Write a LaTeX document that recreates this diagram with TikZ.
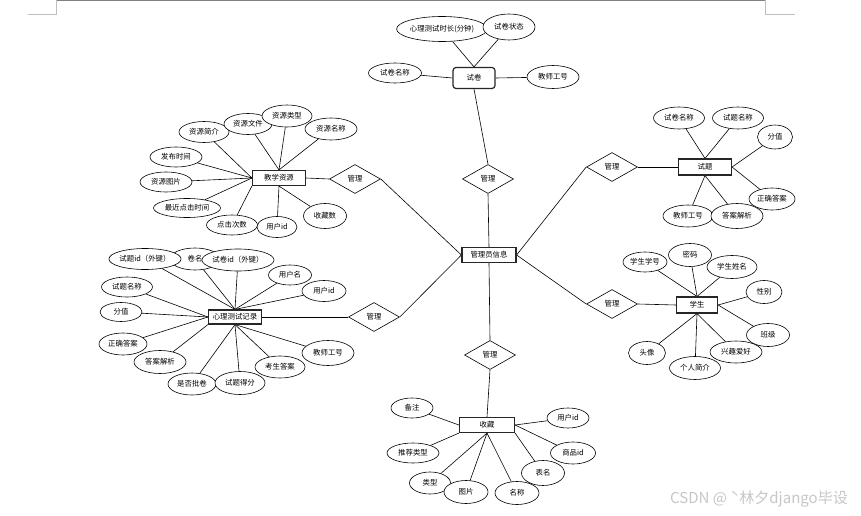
\documentclass[tikz,border=0pt]{standalone}
\usepackage{fontspec}
\newfontfamily\cjk{Noto Sans CJK SC}
\usetikzlibrary{shapes.geometric,backgrounds}
\tikzset{
  attr/.style={ellipse, draw=black, line width=0.6pt, fill=white, inner sep=0pt, font=\cjk\fontsize{7.4}{8}\selectfont},
  ent/.style={rectangle, draw=black!85, line width=1.2pt, fill=white, inner sep=0pt, font=\cjk\fontsize{7.4}{8}\selectfont},
  rel/.style={diamond, draw=black, line width=0.6pt, fill=white, inner sep=0pt, minimum width=51pt, minimum height=29pt, font=\cjk\fontsize{7.4}{8}\selectfont},
  conn/.style={draw=black, line width=0.6pt},
}
\begin{document}
\begin{tikzpicture}[x=1pt,y=-1pt]
\useasboundingbox (0,0) rectangle (861,516);
\begin{scope}[on background layer]
  \fill[white] (0,0) rectangle (861,516);
\end{scope}
% page border marks
\draw[black!50, line width=1.4pt] (57,0.7) -- (765,0.7);
\draw[black!25, line width=0.6pt] (56,0) -- (56,14) -- (28,14);
\draw[black!25, line width=0.6pt] (765,0) -- (765,14) -- (795,14);

% ---------- centre ----------
\node[ent, minimum width=54pt, minimum height=15pt] (gly) at (489,255) {管理员信息};
\node[rel] (d1) at (488,179) {管理};
\node[rel] (d2) at (355,179) {管理};
\node[rel] (d3) at (374,317) {管理};
\node[rel] (d4) at (612,167) {管理};
\node[rel] (d5) at (612,304) {管理};
\node[rel] (d6) at (490,355) {管理};

% ---------- 试卷 ----------
\node[ent, rounded corners=3pt, minimum width=42pt, minimum height=21pt] (sj) at (474,78) {试卷};
\node[attr, minimum width=86pt, minimum height=25pt] (sj1) at (442,29) {心理测试时长(分钟)};
\node[attr, minimum width=52pt, minimum height=26pt] (sj2) at (509,27) {试卷状态};
\node[attr, minimum width=53pt, minimum height=20pt] (sj3) at (395,73) {试卷名称};
\node[attr, minimum width=52pt, minimum height=23pt] (sj4) at (553,77) {教师工号};

% ---------- 教学资源 ----------
\node[ent, minimum width=53pt, minimum height=15pt] (jx) at (279,178) {教学资源};
\node[attr, minimum width=50pt, minimum height=21pt] (j1) at (204,132) {资源简介};
\node[attr, minimum width=48pt, minimum height=21pt] (j2) at (248,124) {资源文件};
\node[attr, minimum width=50pt, minimum height=22pt] (j3) at (287,116) {资源类型};
\node[attr, minimum width=52pt, minimum height=22pt] (j4) at (331,129) {资源名称};
\node[attr, minimum width=52pt, minimum height=20pt] (j5) at (176,157) {发布时间};
\node[attr, minimum width=52pt, minimum height=20pt] (j6) at (166,182) {资源图片};
\node[attr, minimum width=67pt, minimum height=19pt] (j7) at (187,208) {最近点击时间};
\node[attr, minimum width=51pt, minimum height=20pt] (j8) at (232,225) {点击次数};
\node[attr, minimum width=40pt, minimum height=21pt] (j9) at (277,227) {用户id};
\node[attr, minimum width=43pt, minimum height=25pt] (j10) at (325,216) {收藏数};

% ---------- 试题 ----------
\node[ent, minimum width=53pt, minimum height=16pt] (st) at (705,167) {试题};
\node[attr, minimum width=51pt, minimum height=22pt] (t1) at (679,118) {试卷名称};
\node[attr, minimum width=51pt, minimum height=22pt] (t2) at (738,118) {试题名称};
\node[attr, minimum width=35pt, minimum height=24pt] (t3) at (775,137) {分值};
\node[attr, minimum width=46pt, minimum height=22pt] (t4) at (772,199) {正确答案};
\node[attr, minimum width=50pt, minimum height=22pt] (t5) at (688,216) {教师工号};
\node[attr, minimum width=52pt, minimum height=25pt] (t6) at (737,216) {答案解析};

% ---------- 心理测试记录 ----------
\node[ent, minimum width=53pt, minimum height=14pt] (xl) at (235,317) {心理测试记录};
\node[attr, minimum width=50pt, minimum height=22pt] (x0) at (195,259) {卷名};
\node[attr, minimum width=66pt, minimum height=21pt] (x1) at (145,259) {试题id（外键）};
\node[attr, minimum width=65pt, minimum height=22pt] (x2) at (238,260) {试卷id（外键）};
\node[attr, minimum width=43pt, minimum height=20pt] (x3) at (290,275) {用户名};
\node[attr, minimum width=44pt, minimum height=21pt] (x4) at (324,291) {用户id};
\node[attr, minimum width=51pt, minimum height=20pt] (x5) at (127,287) {试题名称};
\node[attr, minimum width=42pt, minimum height=19pt] (x6) at (121,312) {分值};
\node[attr, minimum width=48pt, minimum height=22pt] (x7) at (123,344) {正确答案};
\node[attr, minimum width=52pt, minimum height=23pt] (x8) at (160,362) {答案解析};
\node[attr, minimum width=48pt, minimum height=22pt] (x9) at (192,384) {是否批卷};
\node[attr, minimum width=50pt, minimum height=23pt] (x10) at (240,383) {试题得分};
\node[attr, minimum width=50pt, minimum height=22pt] (x11) at (280,367) {考生答案};
\node[attr, minimum width=52pt, minimum height=25pt] (x12) at (328,353) {教师工号};

% ---------- 学生 ----------
\node[ent, minimum width=41pt, minimum height=16pt] (xs) at (697,305) {学生};
\node[attr, minimum width=44pt, minimum height=20pt] (s1) at (645,262) {学生学号};
\node[attr, minimum width=43pt, minimum height=23pt] (s2) at (690,255) {密码};
\node[attr, minimum width=50pt, minimum height=23pt] (s3) at (732,267) {学生姓名};
\node[attr, minimum width=36pt, minimum height=23pt] (s4) at (764,292) {性别};
\node[attr, minimum width=43pt, minimum height=23pt] (s5) at (768,335) {班级};
\node[attr, minimum width=52pt, minimum height=22pt] (s6) at (736,352) {兴趣爱好};
\node[attr, minimum width=51pt, minimum height=23pt] (s7) at (695,368) {个人简介};
\node[attr, minimum width=37pt, minimum height=23pt] (s8) at (647,353) {头像};

% ---------- 收藏 ----------
\node[ent, minimum width=55pt, minimum height=15pt] (sc) at (487,425) {收藏};
\node[attr, minimum width=42pt, minimum height=20pt] (c1) at (412,408) {备注};
\node[attr, minimum width=52pt, minimum height=20pt] (c2) at (413,453) {推荐类型};
\node[attr, minimum width=41pt, minimum height=22pt] (c3) at (430,483) {类型};
\node[attr, minimum width=44pt, minimum height=23pt] (c4) at (466,492) {图片};
\node[attr, minimum width=44pt, minimum height=23pt] (c5) at (517,493) {名称};
\node[attr, minimum width=43pt, minimum height=25pt] (c6) at (543,473) {表名};
\node[attr, minimum width=45pt, minimum height=22pt] (c7) at (573,453) {商品id};
\node[attr, minimum width=42pt, minimum height=20pt] (c8) at (568,418) {用户id};

% watermark
\node[font=\cjk\fontsize{15}{16}\selectfont, text=black!22, inner sep=0pt] (wm) at (759,499) {CSDN @ ˋ林夕django毕设};

% ---------- connectors ----------
\begin{scope}[on background layer]
  \path[conn] (sj.south) -- (d1.north);
  \path[conn] (gly.north) -- (d1.south);
  \path[conn] (gly.west) -- (d2.east);
  \path[conn] (gly.west) -- (d3.east);
  \path[conn] (gly.east) -- (d4.west);
  \path[conn] (gly.east) -- (d5.west);
  \path[conn] (gly.south) -- (d6.north);
  \path[conn] (d2.west) -- (jx.east);
  \path[conn] (d3.west) -- (xl.east);
  \path[conn] (d4.east) -- (st.west);
  \path[conn] (d5.east) -- (xs.west);
  \path[conn] (d6.south) -- (sc.north);
  % 试卷
  \path[conn] (sj.north) -- (sj1);
  \path[conn] (sj.north) -- (sj2);
  \path[conn] (sj.west) -- (sj3);
  \path[conn] (sj.east) -- (sj4);
  % 教学资源
  \foreach \n in {j1,j5,j6,j7} \path[conn] (jx.west) -- (\n);
  \foreach \n in {j2,j3,j4} \path[conn] (jx.north) -- (\n);
  \path[conn] (jx.south west) -- (j8);
  \path[conn] (jx.south) -- (j9);
  \path[conn] (jx.south) -- (j10);
  % 试题
  \foreach \n in {t1,t2} \path[conn] (st.north) -- (\n);
  \foreach \n in {t3,t4} \path[conn] (st.east) -- (\n);
  \foreach \n in {t5,t6} \path[conn] (st.south) -- (\n);
  % 心理测试记录
  \foreach \n in {x0,x1,x2,x3,x4} \path[conn] (xl.north) -- (\n);
  \foreach \n in {x5,x6,x7} \path[conn] (xl.west) -- (\n);
  \path[conn] (xl.south west) -- (x8);
  \foreach \n in {x9,x10,x11,x12} \path[conn] (xl.south) -- (\n);
  % 学生
  \foreach \n in {s1,s2,s3} \path[conn] (xs.north) -- (\n);
  \foreach \n in {s4,s5} \path[conn] (xs.east) -- (\n);
  \foreach \n in {s6,s7,s8} \path[conn] (xs.south) -- (\n);
  % 收藏
  \path[conn] (sc.west) -- (c1);
  \path[conn] (sc.south west) -- (c2);
  \foreach \n in {c3,c4,c5} \path[conn] (sc.south) -- (\n);
  \path[conn] (sc.south east) -- (c6);
  \foreach \n in {c7,c8} \path[conn] (sc.east) -- (\n);
\end{scope}
\end{tikzpicture}
\end{document}
